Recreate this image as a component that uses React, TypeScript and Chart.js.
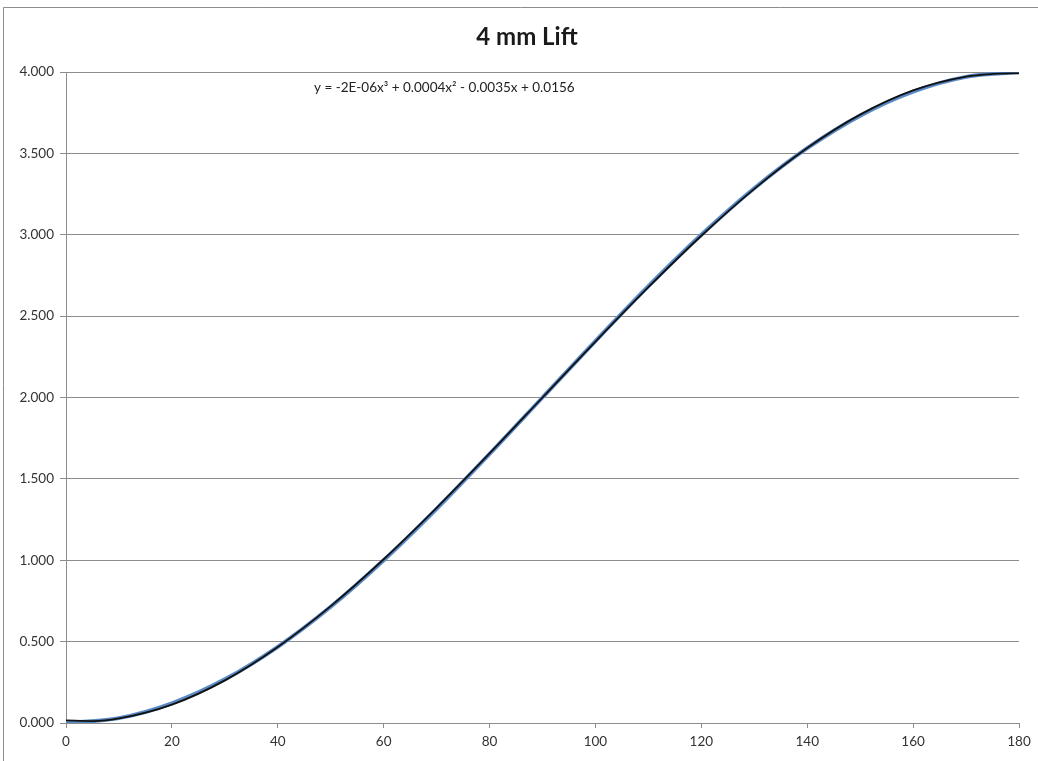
import React, { useEffect, useRef } from "react";
import { Chart, registerables } from "chart.js";

Chart.register(...registerables);

const chartTitle = "4 mm Lift";
const equationText = "y = -2E-06x³ + 0.0004x² - 0.0035x + 0.0156";

const camAngle = [0, 10, 20, 30, 40, 50, 60, 70, 80, 90, 100, 110, 120, 130, 140, 150, 160, 170, 180];
const liftValues = [0.0, 0.03, 0.121, 0.268, 0.468, 0.714, 1.0, 1.316, 1.653, 2.0, 2.347, 2.684, 3.0, 3.286, 3.532, 3.732, 3.879, 3.97, 4.0];

const trendAngle = [0, 5, 10, 20, 30, 40, 50, 60, 70, 80, 90, 100, 110, 120, 130, 140, 150, 160, 170, 175, 180];
const trendValues = [0.016, 0.012, 0.028, 0.113, 0.262, 0.467, 0.718, 1.006, 1.322, 1.656, 2.0, 2.344, 2.678, 2.994, 3.282, 3.533, 3.738, 3.887, 3.972, 3.988, 3.992];

const yTickValues = [0, 0.5, 1, 1.5, 2, 2.5, 3, 3.5, 4];
const xTickValues = [0, 20, 40, 60, 80, 100, 120, 140, 160, 180];

const W = 1038;
const H = 761;
const PLOT_LEFT = 66;
const PLOT_RIGHT = 1019;
const PLOT_TOP = 72;
const PLOT_BOTTOM = 723;
const FONT = "Lato, 'Open Sans', sans-serif";

const decorPlugin = {
  id: "decor",
  beforeDraw(chart: any) {
    const ctx = chart.ctx;
    ctx.save();
    ctx.fillStyle = "#ffffff";
    ctx.fillRect(0, 0, W, H);
    ctx.strokeStyle = "#8c8c8c";
    ctx.lineWidth = 1;
    ctx.beginPath();
    ctx.moveTo(3.5, H);
    ctx.lineTo(3.5, 7.5);
    ctx.lineTo(W, 7.5);
    ctx.stroke();
    ctx.fillStyle = "#1a1a1a";
    ctx.font = "bold 24px " + FONT;
    ctx.textAlign = "center";
    ctx.textBaseline = "middle";
    ctx.fillText(chartTitle, 527, 37);
    ctx.restore();
  },
  afterDatasetsDraw(chart: any) {
    const ctx = chart.ctx;
    ctx.save();
    ctx.fillStyle = "#222222";
    ctx.font = "13.5px " + FONT;
    ctx.textAlign = "left";
    ctx.textBaseline = "middle";
    ctx.fillText(equationText, 314, 88);
    ctx.restore();
  },
};

export default function App() {
  const canvasRef = useRef<HTMLCanvasElement | null>(null);

  useEffect(() => {
    if (!canvasRef.current) return;
    const chart = new Chart(canvasRef.current, {
      type: "line",
      data: {
        datasets: [
          {
            label: "Poly. trend",
            data: trendAngle.map((x, i) => ({ x, y: trendValues[i] })),
            borderColor: "#111111",
            borderWidth: 1.8,
            pointRadius: 0,
            tension: 0.4,
            cubicInterpolationMode: "monotone",
            order: 0,
          },
          {
            label: "Lift",
            data: camAngle.map((x, i) => ({ x, y: liftValues[i] })),
            borderColor: "#5a8ac6",
            borderWidth: 4,
            pointRadius: 0,
            tension: 0.4,
            cubicInterpolationMode: "monotone",
            order: 1,
          },
        ],
      } as any,
      options: {
        animation: false,
        responsive: false,
        maintainAspectRatio: false,
        devicePixelRatio: 1,
        layout: {
          padding: { left: 0, right: W - PLOT_RIGHT, top: PLOT_TOP, bottom: 0 },
        },
        plugins: {
          legend: { display: false },
          title: { display: false },
          tooltip: { enabled: false },
        },
        scales: {
          x: {
            type: "linear",
            min: 0,
            max: 180,
            afterBuildTicks(scale: any) {
              scale.ticks = xTickValues.map((v) => ({ value: v }));
            },
            afterFit(scale: any) {
              scale.height = H - PLOT_BOTTOM;
            },
            grid: {
              drawOnChartArea: false,
              drawTicks: true,
              tickLength: 5,
              color: "#8c8c8c",
            },
            border: { display: true, color: "#8c8c8c", width: 1 },
            ticks: {
              color: "#333333",
              font: { family: FONT, size: 13.5 },
              padding: 6,
              maxRotation: 0,
              callback: (v: any) => String(v),
            },
          },
          y: {
            type: "linear",
            min: 0,
            max: 4,
            afterBuildTicks(scale: any) {
              scale.ticks = yTickValues.map((v) => ({ value: v }));
            },
            afterFit(scale: any) {
              scale.width = PLOT_LEFT;
            },
            grid: {
              drawOnChartArea: true,
              drawTicks: true,
              tickLength: 6,
              color: "#8c8c8c",
            },
            border: { display: true, color: "#8c8c8c", width: 1 },
            ticks: {
              color: "#333333",
              font: { family: FONT, size: 13.5 },
              padding: 6,
              callback: (v: any) => Number(v).toFixed(3),
            },
          },
        },
      } as any,
      plugins: [decorPlugin],
    });
    return () => chart.destroy();
  }, []);

  return (
    <div style={{ position: "fixed", left: 0, top: 0, width: W, height: H, background: "#fff" }}>
      <canvas ref={canvasRef} width={W} height={H} style={{ display: "block", width: W, height: H }} />
    </div>
  );
}
